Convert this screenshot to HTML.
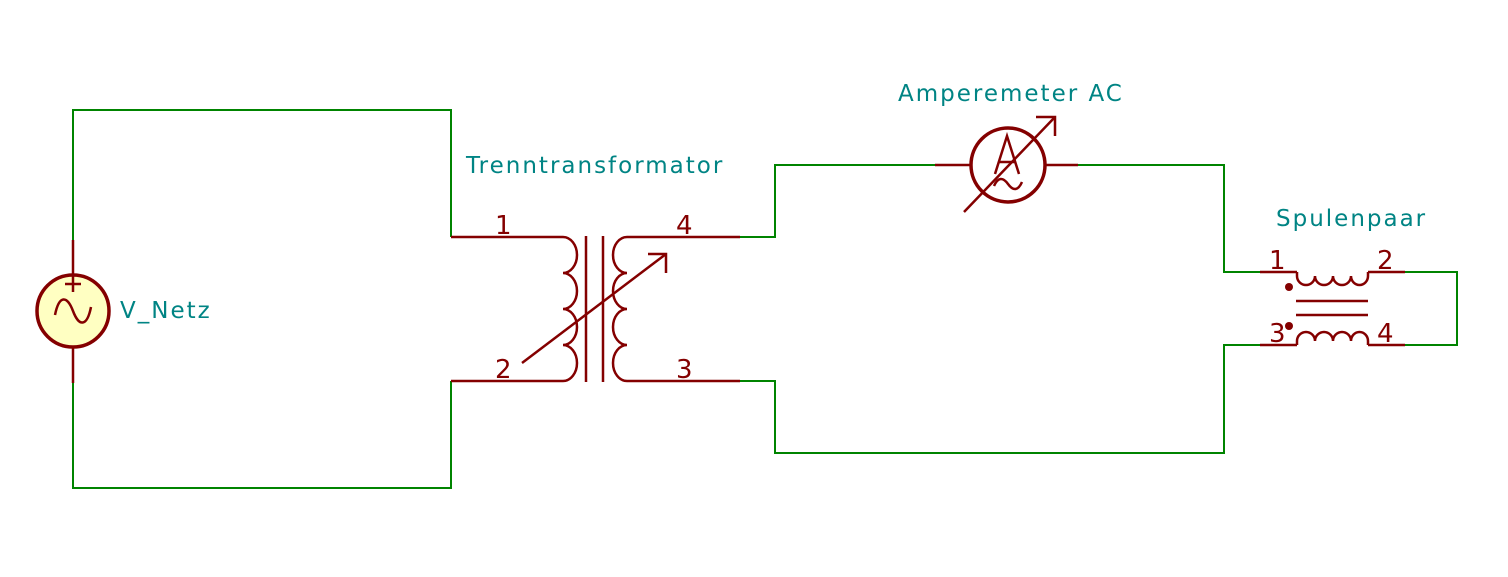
<!DOCTYPE html>
<html><head><meta charset="utf-8"><style>
html,body{margin:0;padding:0;background:#fff}
svg{display:block}
text{font-family:"DejaVu Sans","Liberation Sans",sans-serif;font-size:23px}
.g{stroke:#008400;stroke-width:2;fill:none}
.r{stroke:#840000;stroke-width:2.5;fill:none}
.lbl{fill:#008484;letter-spacing:2.0px}
.pin{fill:#840000;font-size:26px}
</style></head><body>
<svg width="1508" height="577" viewBox="0 0 1508 577">
<g>
<polyline class="g" points="73,240 73,110 451,110 451,237"/>
<polyline class="g" points="73,383 73,488 451,488 451,381"/>
<polyline class="g" points="740,237 775,237 775,165 935,165"/>
<polyline class="g" points="1078,165 1224,165 1224,272 1260,272"/>
<polyline class="g" points="1405,272 1457,272 1457,345 1405,345"/>
<polyline class="g" points="1260,345 1224,345 1224,453 775,453 775,381 740,381"/>
</g>
<g>
<line class="r" x1="73" y1="240" x2="73" y2="275"/>
<line class="r" x1="73" y1="347" x2="73" y2="383"/>
<circle cx="73" cy="311" r="36" fill="#ffffc2" stroke="#840000" stroke-width="3.5"/>
<path class="r" d="M65,284 h16 M73,276 v16"/>
<path class="r" d="M55,315 c4,-20 12,-20 18,-4 c6,16 14,16 18,-4" stroke-width="2.5"/>
</g>
<text class="lbl" x="120" y="318">V_Netz</text>
<g>
<line class="r" x1="451" y1="237" x2="563" y2="237"/>
<line class="r" x1="451" y1="381" x2="563" y2="381"/>
<path class="r" d="M563,237 a14,18 0 0 1 0,36 a14,18 0 0 1 0,36 a14,18 0 0 1 0,36 a14,18 0 0 1 0,36"/>
<line class="r" x1="586" y1="236" x2="586" y2="382"/>
<line class="r" x1="603" y1="236" x2="603" y2="382"/>
<path class="r" d="M627,237 a14,18 0 0 0 0,36 a14,18 0 0 0 0,36 a14,18 0 0 0 0,36 a14,18 0 0 0 0,36"/>
<line class="r" x1="627" y1="237" x2="740" y2="237"/>
<line class="r" x1="627" y1="381" x2="740" y2="381"/>
<line class="r" x1="522" y1="363" x2="666" y2="254"/>
<polyline class="r" points="648,254 666,254 666,273"/>
<text class="pin" x="495" y="234">1</text>
<text class="pin" x="495" y="378">2</text>
<text class="pin" x="676" y="234">4</text>
<text class="pin" x="676" y="378">3</text>
</g>
<text class="lbl" x="466" y="173">Trenntransformator</text>
<g>
<line class="r" x1="935" y1="165" x2="970" y2="165"/>
<line class="r" x1="1046" y1="165" x2="1078" y2="165"/>
<circle cx="1008" cy="165" r="37" fill="none" stroke="#840000" stroke-width="3.5"/>
<line class="r" x1="964" y1="212" x2="1055" y2="117"/>
<polyline class="r" points="1036,117 1055,117 1055,136"/>
<path class="r" d="M995,174 L1007,136 L1019,174 M999,162 h16"/>
<path class="r" d="M994,186 c4,-9 9,-9 14,-2 c5,7 10,7 14,-2"/>
</g>
<text class="lbl" x="898" y="101">Amperemeter AC</text>
<g>
<line class="r" x1="1260" y1="272" x2="1297" y2="272"/>
<line class="r" x1="1368" y1="272" x2="1405" y2="272"/>
<line class="r" x1="1260" y1="345" x2="1297" y2="345"/>
<line class="r" x1="1368" y1="345" x2="1405" y2="345"/>
<path class="r" d="M1297,272 v4 a9,9 0 0 0 18,0 a9,9 0 0 0 18,0 a9,9 0 0 0 18,0 a8.5,9 0 0 0 17,0 v-4"/>
<path class="r" d="M1297,345 v-4 a9,9 0 0 1 18,0 a9,9 0 0 1 18,0 a9,9 0 0 1 18,0 a8.5,9 0 0 1 17,0 v4"/>
<line class="r" x1="1296" y1="301" x2="1368" y2="301"/>
<line class="r" x1="1296" y1="315" x2="1368" y2="315"/>
<circle cx="1289" cy="287" r="4" fill="#840000"/>
<circle cx="1289" cy="326" r="4" fill="#840000"/>
<text class="pin" x="1269" y="269">1</text>
<text class="pin" x="1377" y="269">2</text>
<text class="pin" x="1269" y="342">3</text>
<text class="pin" x="1377" y="342">4</text>
</g>
<text class="lbl" x="1276" y="226">Spulenpaar</text>
</svg>
</body></html>
